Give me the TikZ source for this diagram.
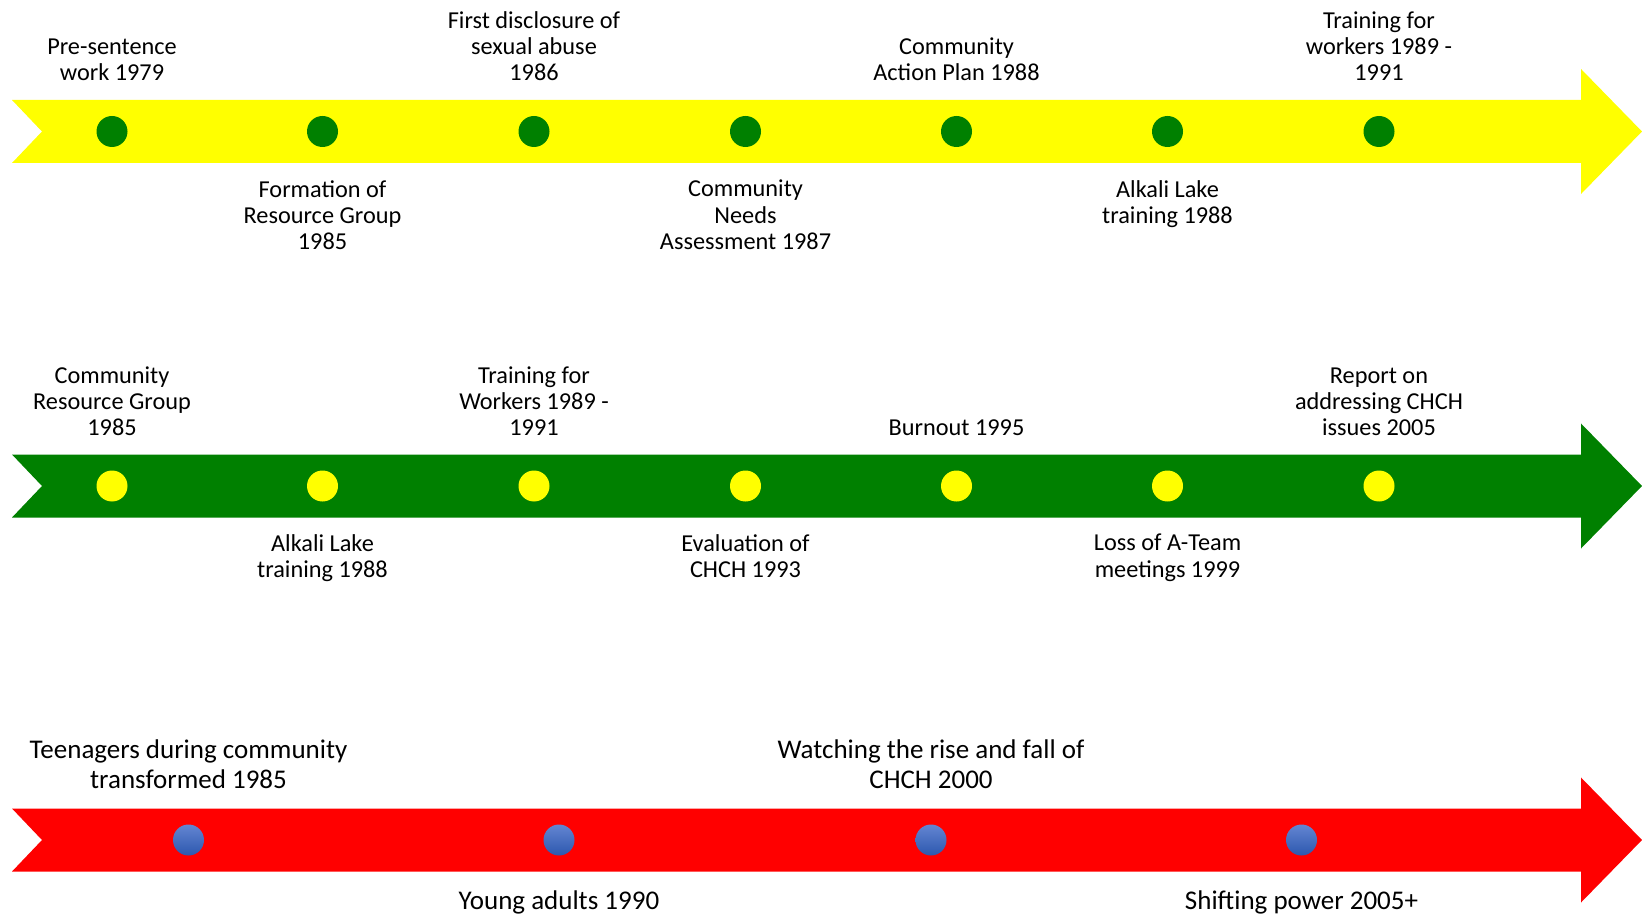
\documentclass[tikz,border=0pt]{standalone}
\usepackage{fontspec}
\setmainfont{Carlito}
\definecolor{tlyellow}{HTML}{FFFF00}
\definecolor{tlgreen}{HTML}{008000}
\definecolor{tlred}{HTML}{FF0000}
\definecolor{dottop}{HTML}{6485D2}
\definecolor{dotbot}{HTML}{2C58AE}
\tikzset{
  lbl/.style={align=center,inner sep=0pt,font=\fontsize{24.3}{26.2}\selectfont,
    execute at begin node=\strut, execute at end node=\strut},
  biglbl/.style={align=center,inner sep=0pt,font=\fontsize{27}{29.3}\selectfont,
    execute at begin node=\strut, execute at end node=\strut},
  above lbl/.style={anchor=south},
  below lbl/.style={anchor=north},
  gdot/.style={circle,fill=tlgreen,minimum size=31pt,inner sep=0pt},
  ydot/.style={circle,fill=tlyellow,minimum size=31pt,inner sep=0pt},
  bdot/.style={circle,top color=dottop,bottom color=dotbot,minimum size=31pt,inner sep=0pt},
}
\newcommand{\tlarrow}[2]{%
  \fill[#2] (12,#1-31.5) -- (1581,#1-31.5) -- (1581,#1-62.5) -- (1642,#1)
    -- (1581,#1+62.5) -- (1581,#1+31.5) -- (12,#1+31.5) -- (42,#1) -- cycle;}
\begin{document}
\begin{tikzpicture}[x=1pt,y=-1pt]
\useasboundingbox (0,0) rectangle (1642,917);
% arrows
\tlarrow{131.5}{tlyellow}
\tlarrow{486}{tlgreen}
\tlarrow{840}{tlred}
% row 1
\node[gdot] (a1) at (112,131.5) {};
\node[gdot] (a2) at (322.5,131.5) {};
\node[gdot] (a3) at (534,131.5) {};
\node[gdot] (a4) at (745.5,131.5) {};
\node[gdot] (a5) at (956.5,131.5) {};
\node[gdot] (a6) at (1167.5,131.5) {};
\node[gdot] (a7) at (1379,131.5) {};
\node[lbl,above lbl] (ta1) at (112,89) {Pre-sentence\\work 1979};
\node[lbl,below lbl] (ta2) at (322.5,180) {Formation of\\Resource Group\\1985};
\node[lbl,above lbl] (ta3) at (534,89) {First disclosure of\\sexual abuse\\1986};
\node[lbl,below lbl] (ta4) at (745.5,180) {Community\\Needs\\Assessment 1987};
\node[lbl,above lbl] (ta5) at (956.5,89) {Community\\Action Plan 1988};
\node[lbl,below lbl] (ta6) at (1167.5,180) {Alkali Lake\\training 1988};
\node[lbl,above lbl] (ta7) at (1379,89) {Training for\\workers 1989 -\\1991};
% row 2
\node[ydot] (b1) at (112,486) {};
\node[ydot] (b2) at (322.5,486) {};
\node[ydot] (b3) at (534,486) {};
\node[ydot] (b4) at (745.5,486) {};
\node[ydot] (b5) at (956.5,486) {};
\node[ydot] (b6) at (1167.5,486) {};
\node[ydot] (b7) at (1379,486) {};
\node[lbl,above lbl] (tb1) at (112,444) {Community\\Resource Group\\1985};
\node[lbl,below lbl] (tb2) at (322.5,534) {Alkali Lake\\training 1988};
\node[lbl,above lbl] (tb3) at (534,444) {Training for\\Workers 1989 -\\1991};
\node[lbl,below lbl] (tb4) at (745.5,534) {Evaluation of\\CHCH 1993};
\node[lbl,above lbl] (tb5) at (956.5,444) {Burnout 1995};
\node[lbl,below lbl] (tb6) at (1167.5,534) {Loss of A-Team\\meetings 1999};
\node[lbl,above lbl] (tb7) at (1379,444) {Report on\\addressing CHCH\\issues 2005};
% row 3
\node[bdot] (c1) at (188.5,840) {};
\node[bdot] (c2) at (559,840) {};
\node[bdot] (c3) at (931,840) {};
\node[bdot] (c4) at (1301.5,840) {};
\node[biglbl,above lbl] (tc1) at (188.5,797) {Teenagers during community\\transformed 1985};
\node[biglbl,below lbl] (tc2) at (559,889) {Young adults 1990};
\node[biglbl,above lbl] (tc3) at (931,797) {Watching the rise and fall of\\CHCH 2000};
\node[biglbl,below lbl] (tc4) at (1301.5,889) {Shifting power 2005+};
\end{tikzpicture}
\end{document}
